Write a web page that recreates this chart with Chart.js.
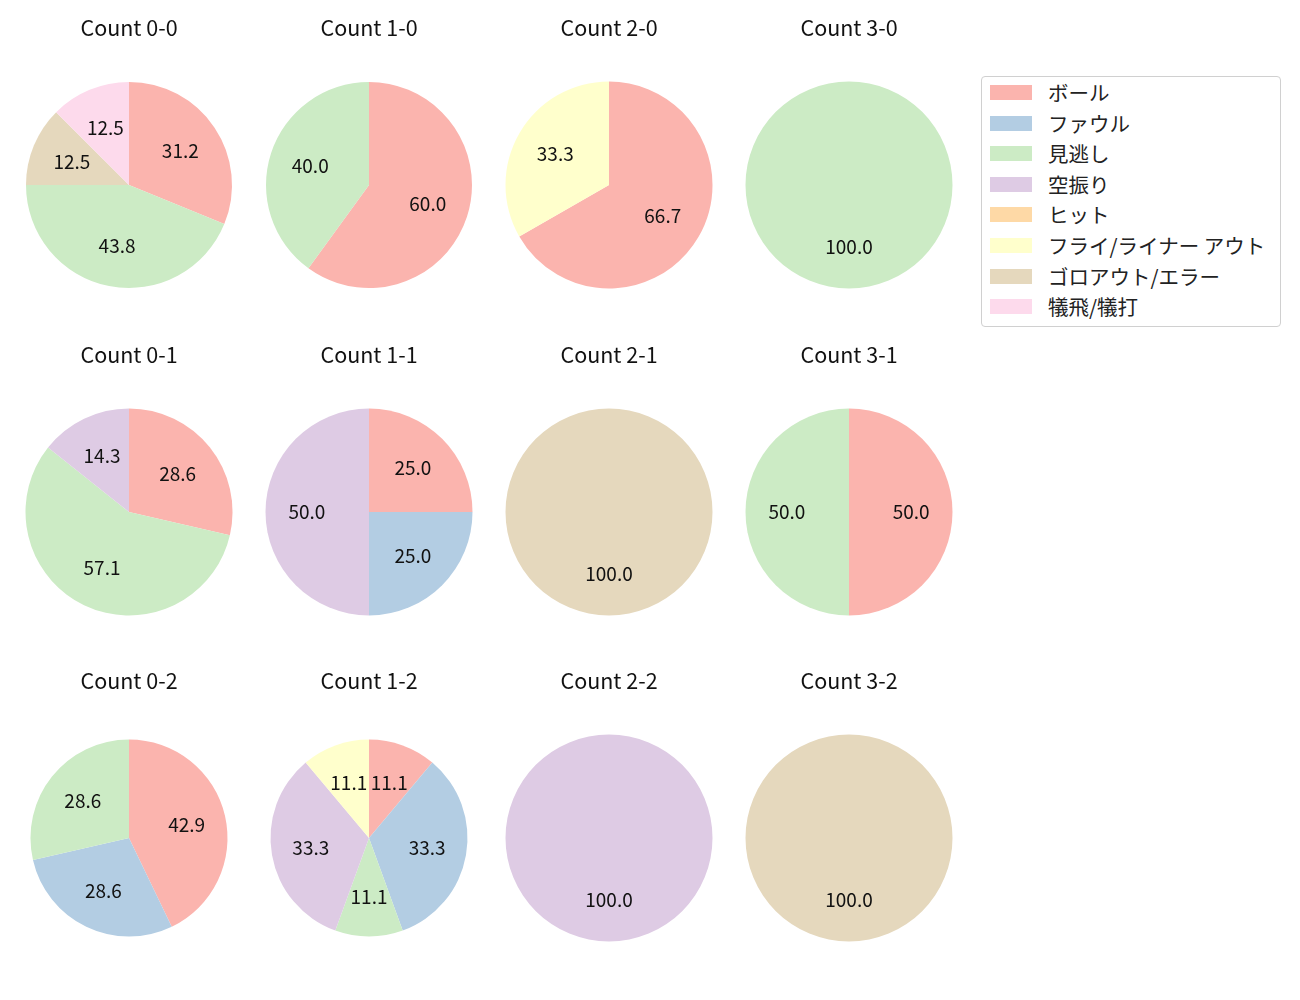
<!DOCTYPE html>
<html>
<head>
<meta charset="utf-8">
<script src="https://cdn.jsdelivr.net/npm/chart.js@4.4.1/dist/chart.umd.min.js"></script>
<style>
  body { margin: 0; background: #fff; font-family: "Noto Sans CJK JP", sans-serif; }
  #wrap { position: relative; width: 1300px; height: 1000px; }
  canvas { position: absolute; }
  #legend {
    position: absolute; left: 981px; top: 76px; width: 300px; height: 251px;
    border: 1px solid #d0d0d0; border-radius: 4px; box-sizing: border-box;
  }
  .item { position: absolute; left: 0; height: 30px; }
  .sw { position: absolute; left: 8px; width: 42px; height: 15px; }
  .lb { position: absolute; left: 66px; font-size: 20.5px; color: #222; white-space: nowrap; line-height: 30px; }
</style>
</head>
<body>
<div id="wrap"><div id="legend"></div></div>
<script>
// pitch result categories and colours (Pastel1)
const categories = ["ボール", "ファウル", "見逃し", "空振り", "ヒット", "フライ/ライナー アウト", "ゴロアウト/エラー", "犠飛/犠打"];
const colors = ["#fbb4ae", "#b3cde3", "#ccebc5", "#decbe4", "#fed9a6", "#ffffcc", "#e5d8bd", "#fddaec"];

// percentages per count, in category order
const titles = ["Count 0-0", "Count 1-0", "Count 2-0", "Count 3-0",
                "Count 0-1", "Count 1-1", "Count 2-1", "Count 3-1",
                "Count 0-2", "Count 1-2", "Count 2-2", "Count 3-2"];
const count00 = [31.2, 0, 43.8, 0, 0, 0, 12.5, 12.5];
const count10 = [60.0, 0, 40.0, 0, 0, 0, 0, 0];
const count20 = [66.7, 0, 0, 0, 0, 33.3, 0, 0];
const count30 = [0, 0, 100, 0, 0, 0, 0, 0];
const count01 = [28.6, 0, 57.1, 14.3, 0, 0, 0, 0];
const count11 = [25.0, 25.0, 0, 50.0, 0, 0, 0, 0];
const count21 = [0, 0, 0, 0, 0, 0, 100, 0];
const count31 = [50.0, 0, 50.0, 0, 0, 0, 0, 0];
const count02 = [42.9, 28.6, 28.6, 0, 0, 0, 0, 0];
const count12 = [11.1, 33.3, 11.1, 33.3, 0, 11.1, 0, 0];
const count22 = [0, 0, 0, 100, 0, 0, 0, 0];
const count32 = [0, 0, 0, 0, 0, 0, 100, 0];
const allCounts = [count00, count10, count20, count30, count01, count11, count21, count31, count02, count12, count22, count32];

const colX = [129, 369, 609, 849];
const rowY = [185, 512, 838];
const radii = [103, 103, 103.5, 103.5, 103.5, 103.5, 103.5, 103.5, 98.5, 98.5, 103.5, 103.5];

// matplotlib style percentage labels at 0.6 of the radius
const pctLabels = {
  id: "pctLabels",
  afterDatasetsDraw(chart) {
    const ctx = chart.ctx;
    const meta = chart.getDatasetMeta(0);
    const vals = chart.data.datasets[0].data;
    ctx.save();
    ctx.font = "19px 'Noto Sans CJK JP'";
    ctx.fillStyle = "#111";
    ctx.textAlign = "center";
    ctx.textBaseline = "middle";
    meta.data.forEach((arc, i) => {
      if (!vals[i]) return;
      const p = arc.getProps(["x", "y", "startAngle", "endAngle", "outerRadius"], true);
      const mid = (p.startAngle + p.endAngle) / 2;
      const r = p.outerRadius * 0.6;
      ctx.fillText(vals[i].toFixed(1), p.x + Math.cos(mid) * r, p.y + Math.sin(mid) * r);
    });
    ctx.restore();
  }
};

const titleText = {
  id: "titleText",
  afterDraw(chart, args, opts) {
    const ctx = chart.ctx;
    ctx.save();
    ctx.font = "21.5px 'Noto Sans CJK JP'";
    ctx.fillStyle = "#111";
    ctx.textAlign = "center";
    ctx.textBaseline = "middle";
    ctx.fillText(opts.text, chart.width / 2, 28);
    ctx.restore();
  }
};

const wrap = document.getElementById("wrap");
allCounts.forEach((vals, k) => {
  const col = k % 4, row = Math.floor(k / 4);
  const cv = document.createElement("canvas");
  cv.width = 240; cv.height = 330;
  cv.style.left = (colX[col] - 120) + "px";
  cv.style.top = (rowY[row] - 185) + "px";
  wrap.appendChild(cv);
  new Chart(cv, {
    type: "pie",
    data: {
      labels: categories,
      datasets: [{ data: vals, backgroundColor: colors, borderWidth: 0 }]
    },
    options: {
      responsive: false,
      animation: false,
      devicePixelRatio: 1,
      radius: radii[k],
      layout: { padding: { top: 40 } },
      plugins: {
        legend: { display: false },
        tooltip: { enabled: false },
        titleText: { text: titles[k] }
      }
    },
    plugins: [pctLabels, titleText]
  });
});

// legend
const legend = document.getElementById("legend");
categories.forEach((c, i) => {
  const it = document.createElement("div");
  it.className = "item";
  it.style.top = (i * 30.6 + 0) + "px";
  it.innerHTML = '<div class="sw" style="top:8px;background:' + colors[i] + '"></div><div class="lb">' + c + '</div>';
  legend.appendChild(it);
});
</script>
</body>
</html>
